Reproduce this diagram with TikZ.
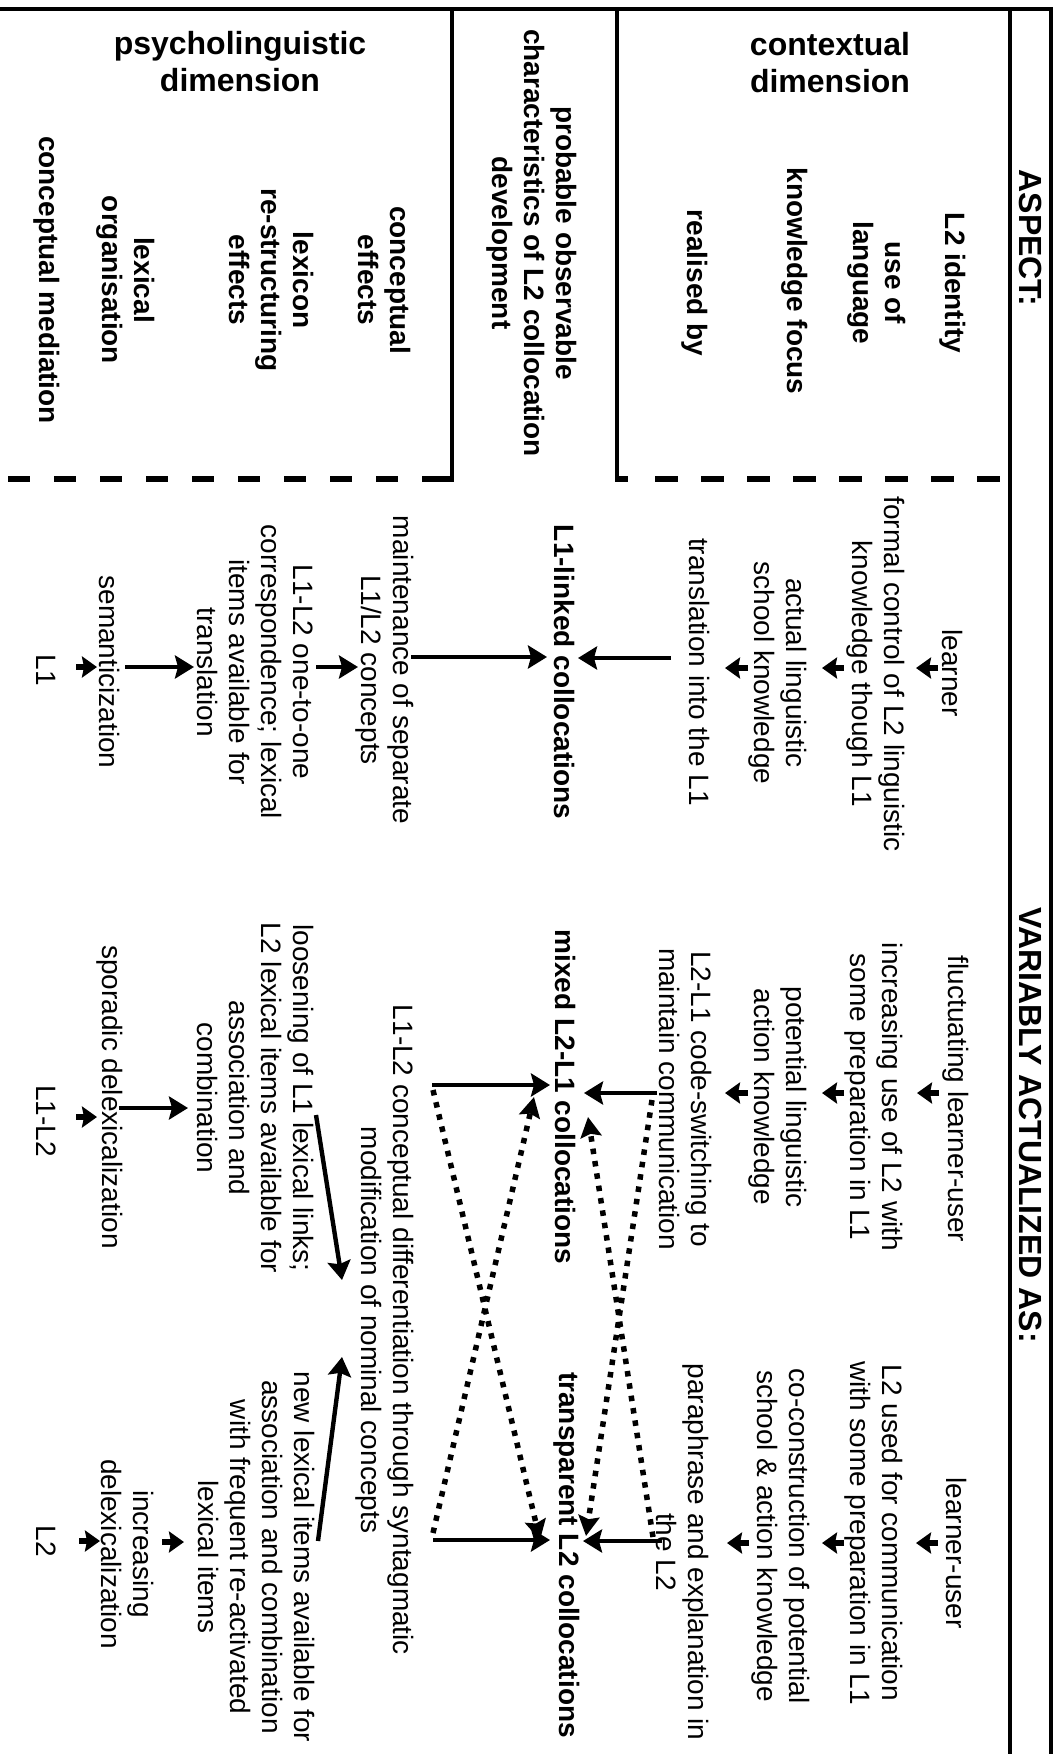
\documentclass[tikz,border=0pt]{standalone}
\usepackage{fontspec}
\setmainfont{Liberation Sans}
\usetikzlibrary{arrows.meta}
\newcommand\hdrsize{\fontsize{32}{37}\selectfont\bfseries}
\newcommand\bodysize{\fontsize{28}{32}\selectfont}
\begin{document}
\begin{tikzpicture}[x=1pt,y=-1pt,
  rule/.style={line width=4pt},
  dashrule/.style={line width=6pt, dash pattern=on 22pt off 24pt},
  head/.style={font=\hdrsize, align=center, inner sep=0pt},
  vhead/.style={head, rotate=-90},
  aspectlab/.style={rotate=-90, align=center, inner sep=0pt, font=\bodysize\bfseries},
  item/.style={rotate=-90, align=center, inner sep=0pt, font=\bodysize},
  colloc/.style={item, font=\bodysize\bfseries},
  arr/.style={line width=4.4pt, -{Stealth[length=19pt,width=23pt,inset=3pt]}},
  stub/.style={line width=5.5pt, -{Stealth[length=15pt,width=21pt,inset=2pt]}},
  dotarr/.style={line width=5.5pt, dash pattern=on 5.5pt off 7pt, -{Stealth[length=20pt,width=21pt,inset=3pt]}}
]
\useasboundingbox (0,0) rectangle (1057,1754);

% ---------- table rules ----------
\draw[rule] (0,9) -- (1053,9);
\draw[rule] (1051,7) -- (1051,1754);
\draw[rule] (1010,9) -- (1010,1754);
\draw[rule] (452,9) -- (452,479);
\draw[rule] (617,9) -- (617,479);
\draw[dashrule] (8,479) -- (452,479);
\draw[line width=6pt] (440,479) -- (454,479);
\draw[line width=6pt] (615,479) -- (628,479);
\draw[line width=6pt, dash pattern=on 23pt off 23pt] (655,479) -- (1001,479);

% ---------- headings ----------
\node[vhead] (aspect) at (1031,238) {ASPECT:};
\node[vhead] (variably) at (1031,1125) {VARIABLY ACTUALIZED AS:};
\node[head] (ctxhead) at (830,63) {contextual\\dimension};
\node[head] (psyhead) at (240,62) {psycholinguistic\\dimension};

% ---------- aspect labels ----------
\node[aspectlab] (l2id) at (953,283) {L2 identity};
\node[aspectlab] (useof) at (877,283) {use of\\language};
\node[aspectlab] (knowfoc) at (795,281) {knowledge focus};
\node[aspectlab] (realised) at (695,283) {realised by};
\node[aspectlab] (probable) at (532,243) {probable observable\\characteristics of L2 collocation\\development};
\node[aspectlab] (conceff) at (385,280) {conceptual\\effects};
\node[aspectlab] (lexrestr) at (272,280) {lexicon\\re-structuring\\effects};
\node[aspectlab] (lexorg) at (126,280) {lexical\\organisation};
\node[aspectlab] (concmed) at (47,280) {conceptual mediation};

% ---------- stage 1: L1-linked ----------
\node[item] (a1) at (952,673) {learner};
\node[item] (a2) at (876,674) {formal control of L2 linguistic\\knowledge though L1};
\node[item] (a3) at (778,673) {actual linguistic\\school knowledge};
\node[item] (a4) at (700,672) {translation into the L1};
\node[colloc] (a5) at (565,672) {L1-linked collocations};
\node[item] (a6) at (385,670) {maintenance of separate\\L1/L2 concepts};
\node[item] (a7) at (255,672) {L1-L2 one-to-one\\correspondence; lexical\\items available for\\translation};
\node[item] (a8) at (110,672) {semanticization};
\node[item] (a9) at (46,670) {L1};

% ---------- stage 2: mixed ----------
\node[item] (b1) at (956,1099) {fluctuating learner-user};
\node[item] (b2) at (874,1097) {increasing use of L2 with\\some preparation in L1};
\node[item] (b3) at (778,1097) {potential linguistic\\action knowledge};
\node[item] (b4) at (686,1099) {L2-L1 code-switching to\\maintain communication};
\node[colloc] (b5) at (566,1097) {mixed L2-L1 collocations};
\node[item] (b7) at (256,1098) {loosening of L1 lexical links;\\L2 lexical items available for\\association and\\combination};
\node[item] (b8) at (110,1097) {sporadic delexicalization};
\node[item] (b9) at (46,1121) {L1-L2};

% shared concept row
\node[item] (cd) at (385,1330) {L1-L2 conceptual differentiation through syntagmatic\\modification of nominal concepts};

% ---------- stage 3: transparent ----------
\node[item] (c1) at (956,1553) {learner-user};
\node[item] (c2) at (874,1533) {L2 used for communication\\with some preparation in L1};
\node[item] (c3) at (781,1536) {co-construction of potential\\school \& action knowledge};
\node[item] (c4) at (683,1552) {paraphrase and explanation in\\the L2};
\node[colloc] (c5) at (567,1555) {transparent L2 collocations};
\node[item] (c7) at (257,1557) {new lexical items available for\\association and combination\\with frequent re-activated\\lexical items};
\node[item] (c8) at (128,1554) {increasing\\delexicalization};
\node[item] (c9) at (46,1541) {L2};

% ---------- arrow end points ----------
\coordinate (pa1) at (938,668);  \coordinate (pa1e) at (916,668);
\coordinate (pa2) at (844,668);  \coordinate (pa2e) at (822,668);
\coordinate (pa3) at (748,668);  \coordinate (pa3e) at (725,668);
\coordinate (pb1) at (939,1093); \coordinate (pb1e) at (917,1093);
\coordinate (pb2) at (844,1093); \coordinate (pb2e) at (822,1093);
\coordinate (pb3) at (748,1093); \coordinate (pb3e) at (725,1093);
\coordinate (pc1) at (938,1543); \coordinate (pc1e) at (916,1543);
\coordinate (pc2) at (844,1543); \coordinate (pc2e) at (822,1543);
\coordinate (pc3) at (749,1543); \coordinate (pc3e) at (727,1543);

% contextual chain (leftwards)
\draw[stub] (pa1) -- (pa1e);
\draw[stub] (pa2) -- (pa2e);
\draw[stub] (pa3) -- (pa3e);
\draw[stub] (pb1) -- (pb1e);
\draw[stub] (pb2) -- (pb2e);
\draw[stub] (pb3) -- (pb3e);
\draw[stub] (pc1) -- (pc1e);
\draw[stub] (pc2) -- (pc2e);
\draw[stub] (pc3) -- (pc3e);

% stage 1 connectors
\coordinate (ta4) at (671,658); \coordinate (ha5r) at (578,658);
\coordinate (ta6) at (411,657); \coordinate (ha5l) at (547,657);
\coordinate (ta7) at (316,667); \coordinate (ha6) at (358,667);
\coordinate (ta8) at (125,667); \coordinate (ha7) at (194,667);
\coordinate (ta9) at (76,667);  \coordinate (ha8) at (97,667);
\draw[arr] (ta4) -- (ha5r);
\draw[arr] (ta6) -- (ha5l);
\draw[arr] (ta7) -- (ha6);
\draw[arr] (ta8) -- (ha7);
\draw[stub] (ta9) -- (ha8);

% stage 2 connectors
\coordinate (tb4) at (657,1093); \coordinate (hb5r) at (584,1093);
\coordinate (tcd1) at (432,1085); \coordinate (hb5l) at (550,1085);
\coordinate (tb7) at (316,1115); \coordinate (hcd1) at (342,1280);
\coordinate (tb8) at (119,1108); \coordinate (hb7) at (188,1108);
\coordinate (tb9) at (76,1117);  \coordinate (hb8) at (97,1117);
\draw[arr] (tb4) -- (hb5r);
\draw[arr] (tcd1) -- (hb5l);
\draw[arr] (tb7) -- (hcd1);
\draw[arr] (tb8) -- (hb7);
\draw[stub] (tb9) -- (hb8);

% stage 3 connectors
\coordinate (tc4) at (662,1541); \coordinate (hc5r) at (583,1541);
\coordinate (tcd2) at (433,1540); \coordinate (hc5l) at (550,1540);
\coordinate (tc7) at (318,1541); \coordinate (hcd2) at (342,1357);
\coordinate (tc8) at (162,1542); \coordinate (hc7) at (184,1542);
\coordinate (tc9) at (79,1541);  \coordinate (hc8) at (100,1541);
\draw[arr] (tc4) -- (hc5r);
\draw[arr] (tcd2) -- (hc5l);
\draw[arr] (tc7) -- (hcd2);
\draw[stub] (tc8) -- (hc7);
\draw[stub] (tc9) -- (hc8);

% crossing dotted connectors between the two later stages
\coordinate (d1s) at (652,1100); \coordinate (d1e) at (586,1536);
\coordinate (d2s) at (653,1537); \coordinate (d2e) at (588,1117);
\coordinate (d3s) at (433,1090); \coordinate (d3e) at (540,1540);
\coordinate (d4s) at (433,1533); \coordinate (d4e) at (534,1097);
\draw[dotarr] (d1s) -- (d1e);
\draw[dotarr] (d2s) -- (d2e);
\draw[dotarr] (d3s) -- (d3e);
\draw[dotarr] (d4s) -- (d4e);
\end{tikzpicture}
\end{document}
